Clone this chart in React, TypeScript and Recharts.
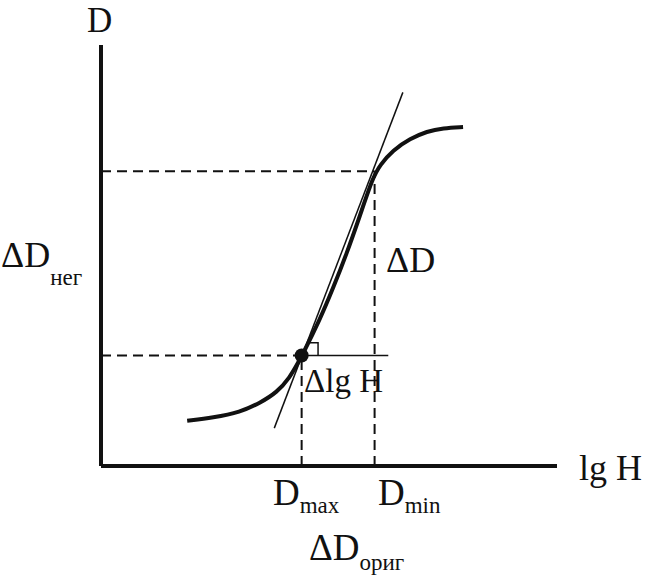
import React from "react";
import {
  ComposedChart,
  Line,
  XAxis,
  YAxis,
  ReferenceLine,
  ReferenceDot,
} from "recharts";

// characteristic curve D(lg H)
const curve = [
  { x: 1.89, y: 0.43 },
  { x: 2.46, y: 0.46 },
  { x: 3.05, y: 0.51 },
  { x: 3.49, y: 0.6 },
  { x: 3.86, y: 0.7 },
  { x: 4.14, y: 0.84 },
  { x: 4.32, y: 0.98 },
  { x: 4.41, y: 1.05 },
  { x: 4.8, y: 1.39 },
  { x: 5.09, y: 1.69 },
  { x: 5.39, y: 2.02 },
  { x: 5.68, y: 2.38 },
  { x: 5.96, y: 2.74 },
  { x: 6.12, y: 2.86 },
  { x: 6.4, y: 3.0 },
  { x: 6.78, y: 3.11 },
  { x: 7.15, y: 3.18 },
  { x: 7.5, y: 3.21 },
  { x: 7.94, y: 3.22 },
];

// secant through the two marked points
const secant = [
  { x: 3.8, y: 0.36 },
  { x: 6.62, y: 3.55 },
];

// small right-angle mark
const angleMark = [
  { x: 4.52, y: 1.17 },
  { x: 4.76, y: 1.17 },
  { x: 4.76, y: 1.05 },
];

const xMax = 4.4; // D_max position on lg H
const xMin = 6.0; // D_min position
const yLow = 1.05;
const yHigh = 2.8;
const deltaEnd = 6.3;

const serif = "'Liberation Serif', 'Times New Roman', serif";

function Labels() {
  const t = { fontFamily: serif, fill: "#111" };
  return (
    <svg
      width={650}
      height={577}
      style={{ position: "absolute", left: 0, top: 0, pointerEvents: "none" }}
    >
      <text x={87} y={32} fontSize={35} style={t}>D</text>
      <text x={579} y={480} fontSize={36} style={t}>lg H</text>
      <text x={1} y={267} fontSize={36} style={t}>
        ΔD<tspan fontSize={23} dy={18}>нег</tspan>
      </text>
      <text x={386} y={272} fontSize={36} style={t}>ΔD</text>
      <text x={304} y={392} fontSize={33} style={t}>Δlg H</text>
      <text x={273} y={505} fontSize={37} style={t}>
        D<tspan fontSize={23} dy={8}>max</tspan>
      </text>
      <text x={378} y={505} fontSize={37} style={t}>
        D<tspan fontSize={23} dy={8}>min</tspan>
      </text>
      <text x={309} y={560} fontSize={37} style={t}>
        ΔD<tspan fontSize={23} dy={10}>ориг</tspan>
      </text>
    </svg>
  );
}

export default function App() {
  return (
    <div style={{ position: "absolute", left: 0, top: 0, width: 650, height: 577, background: "#fff" }}>
      <ComposedChart
        width={650}
        height={577}
        margin={{ top: 45, right: 93, bottom: 111, left: 101 }}
      >
        <XAxis type="number" dataKey="x" domain={[0, 10]} hide />
        <YAxis type="number" dataKey="y" domain={[0, 4]} hide />

        <ReferenceLine
          segment={[{ x: 0, y: yHigh }, { x: xMin, y: yHigh }]}
          stroke="#111"
          strokeWidth={2}
          strokeDasharray="10 6"
        />
        <ReferenceLine
          segment={[{ x: xMin, y: 0 }, { x: xMin, y: yHigh }]}
          stroke="#111"
          strokeWidth={2}
          strokeDasharray="10 6"
        />
        <ReferenceLine
          segment={[{ x: 0, y: yLow }, { x: xMax, y: yLow }]}
          stroke="#111"
          strokeWidth={2}
          strokeDasharray="10 6"
        />
        <ReferenceLine
          segment={[{ x: xMax, y: 0 }, { x: xMax, y: yLow }]}
          stroke="#111"
          strokeWidth={2}
          strokeDasharray="10 6"
        />
        <ReferenceLine
          segment={[{ x: xMax, y: yLow }, { x: deltaEnd, y: yLow }]}
          stroke="#111"
          strokeWidth={1.5}
        />

        {/* axes */}
        <ReferenceLine x={0} stroke="#111" strokeWidth={4} />
        <ReferenceLine y={0} stroke="#111" strokeWidth={4} />

        <Line
          data={secant}
          dataKey="y"
          type="linear"
          stroke="#111"
          strokeWidth={1.5}
          dot={false}
          isAnimationActive={false}
        />
        <Line
          data={angleMark}
          dataKey="y"
          type="linear"
          stroke="#111"
          strokeWidth={1.5}
          dot={false}
          isAnimationActive={false}
        />
        <Line
          data={curve}
          dataKey="y"
          type="basis"
          stroke="#111"
          strokeWidth={4}
          dot={false}
          isAnimationActive={false}
        />
        <ReferenceDot x={xMax} y={yLow} r={7} fill="#111" stroke="none" />
      </ComposedChart>
      <Labels />
    </div>
  );
}
